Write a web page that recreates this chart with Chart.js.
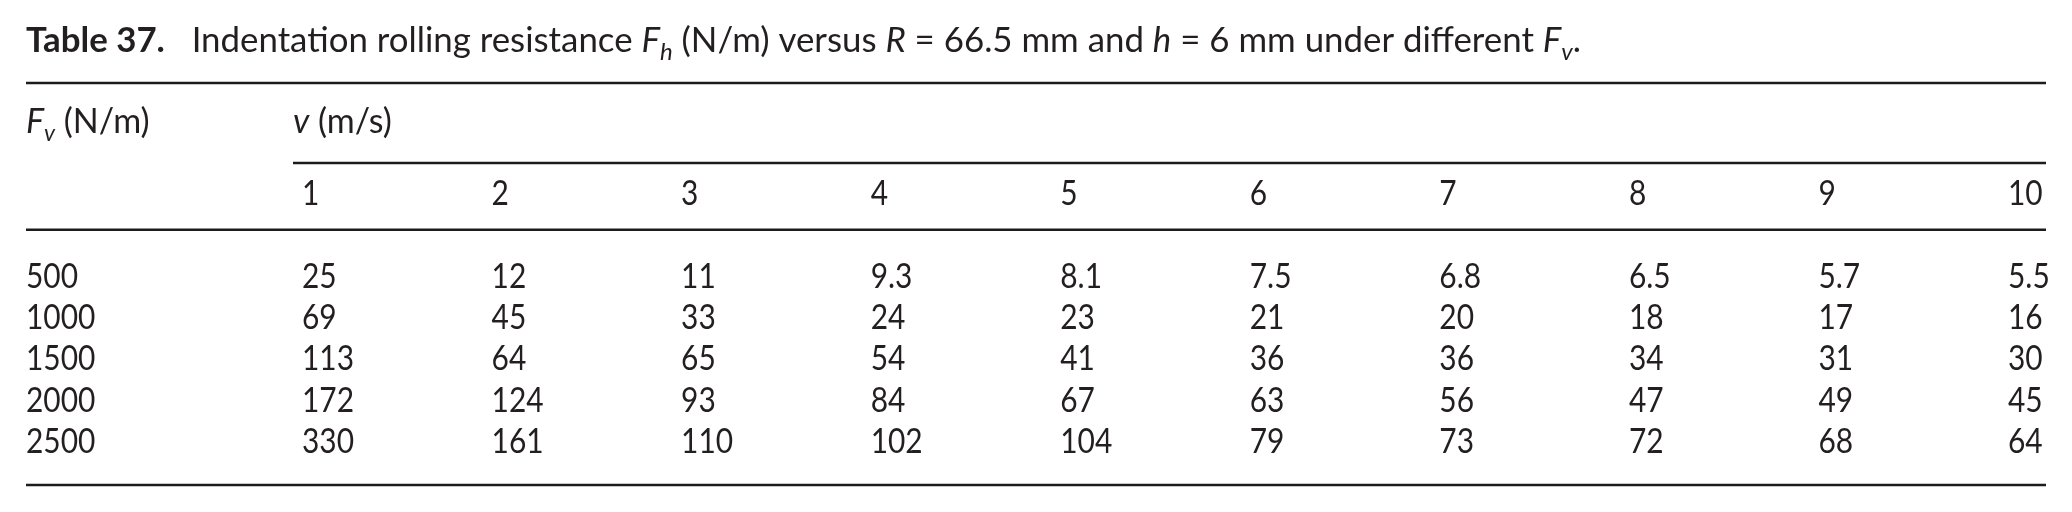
<!DOCTYPE html>
<html>
<head>
<meta charset="utf-8">
<script src="https://cdn.jsdelivr.net/npm/chart.js@4/dist/chart.umd.min.js"></script>
<style>
  html, body { margin: 0; padding: 0; background: #fff; }
  canvas { display: block; }
</style>
</head>
<body>
<canvas id="tabla" width="2072" height="512"></canvas>
<script>
// Datos de la tabla 37
const velocidades = [1, 2, 3, 4, 5, 6, 7, 8, 9, 10];
const cargasFv = [500, 1000, 1500, 2000, 2500];
const fila500 = [25, 12, 11, 9.3, 8.1, 7.5, 6.8, 6.5, 5.7, 5.5];
const fila1000 = [69, 45, 33, 24, 23, 21, 20, 18, 17, 16];
const fila1500 = [113, 64, 65, 54, 41, 36, 36, 34, 31, 30];
const fila2000 = [172, 124, 93, 84, 67, 63, 56, 47, 49, 45];
const fila2500 = [330, 161, 110, 102, 104, 79, 73, 72, 68, 64];
const filas = [fila500, fila1000, fila1500, fila2000, fila2500];

const FUENTE = 'Lato';
const TAM = 34;
const COLOR = '#231f20';
const ANCHO_TITULO = 1555;
const ESTRECHO = 0.88; // las cifras del original son mas estrechas

const trozosTitulo = [
  { t: 'Table 37.', b: true },
  { t: '   Indentation rolling resistance ' },
  { t: 'F', i: true },
  { t: 'h', i: true, sub: true },
  { t: ' (N/m) versus ' },
  { t: 'R', i: true },
  { t: ' = 66.5 mm and ' },
  { t: 'h', i: true },
  { t: ' = 6 mm under different ' },
  { t: 'F', i: true },
  { t: 'v', i: true, sub: true },
  { t: '.' }
];

function fuenteDe(t, tam) {
  const size = t.sub ? Math.round(tam * 0.68) : tam;
  return (t.i ? 'italic ' : '') + (t.b ? 'bold ' : '') + size + 'px ' + FUENTE;
}

function medirTrozos(ctx, trozos, tam) {
  let w = 0;
  trozos.forEach(t => {
    ctx.font = fuenteDe(t, tam);
    w += ctx.measureText(t.t).width;
  });
  return w;
}

// Dibujar texto con trozos en negrita / cursiva / subindice
function dibujarTrozos(ctx, x, y, trozos, tam) {
  let cx = x;
  trozos.forEach(t => {
    ctx.font = fuenteDe(t, tam);
    const dy = t.sub ? tam * 0.24 : 0;
    ctx.fillText(t.t, cx, y + dy);
    cx += ctx.measureText(t.t).width;
  });
  return cx;
}

function numero(ctx, txt, x, y) {
  ctx.save();
  ctx.translate(x, y);
  ctx.scale(ESTRECHO, 1);
  ctx.fillText(txt, 0, 0);
  ctx.restore();
}

function regla(ctx, x1, x2, y) {
  ctx.beginPath();
  ctx.moveTo(x1, y);
  ctx.lineTo(x2, y);
  ctx.stroke();
}

const pluginTabla = {
  id: 'pluginTabla',
  afterDatasetsDraw(chart) {
    const ctx = chart.ctx;
    const xs = chart.scales.x;
    const ys = chart.scales.y;
    const izq = chart.chartArea.left;
    const der = chart.chartArea.right;
    ctx.save();
    ctx.fillStyle = COLOR;
    ctx.strokeStyle = '#1c1c1c';
    ctx.lineWidth = 2.5;
    ctx.textAlign = 'left';
    ctx.textBaseline = 'alphabetic';

    // Titulo, ajustado al ancho del original
    const tamTitulo = TAM * ANCHO_TITULO / medirTrozos(ctx, trozosTitulo, TAM);
    dibujarTrozos(ctx, izq, 52, trozosTitulo, tamTitulo);

    // Reglas
    const xVel = xs.getPixelForValue(0.9525);
    regla(ctx, izq, der, chart.chartArea.top);
    regla(ctx, xVel, der, ys.getPixelForValue(-3.03));
    regla(ctx, izq, der, ys.getPixelForValue(-1.41));
    regla(ctx, izq, der, chart.chartArea.bottom);

    // Encabezados
    const yEnc = ys.getPixelForValue(-3.76);
    dibujarTrozos(ctx, izq, yEnc, [
      { t: 'F', i: true },
      { t: 'v', i: true, sub: true },
      { t: ' (N/m)' }
    ], TAM);
    dibujarTrozos(ctx, xVel, yEnc, [
      { t: 'v', i: true },
      { t: ' (m/s)' }
    ], TAM);

    ctx.font = TAM + 'px ' + FUENTE;
    const yVel = ys.getPixelForValue(-2);
    velocidades.forEach(v => {
      numero(ctx, String(v), xs.getPixelForValue(v), yVel);
    });

    // Celdas
    chart.data.datasets.forEach((ds, di) => {
      const meta = chart.getDatasetMeta(di);
      numero(ctx, String(cargasFv[di]), izq, ys.getPixelForValue(di));
      meta.data.forEach((pt, i) => {
        numero(ctx, String(ds.data[i].valor), pt.x, pt.y);
      });
    });
    ctx.restore();
  }
};

const datasets = filas.map((fila, r) => ({
  label: String(cargasFv[r]),
  data: fila.map((valor, i) => ({ x: velocidades[i], y: r, valor: valor })),
  pointRadius: 0,
  showLine: false
}));

new Chart(document.getElementById('tabla'), {
  type: 'scatter',
  data: { datasets: datasets },
  options: {
    responsive: false,
    animation: false,
    devicePixelRatio: 1,
    layout: { padding: { left: 26, right: 26, top: 83, bottom: 27 } },
    plugins: { legend: { display: false }, tooltip: { enabled: false } },
    scales: {
      x: { type: 'linear', display: false, min: -0.456, max: 10.2005 },
      y: { type: 'linear', display: false, reverse: true, min: -4.97, max: 4.78 }
    }
  },
  plugins: [pluginTabla]
});
</script>
</body>
</html>
